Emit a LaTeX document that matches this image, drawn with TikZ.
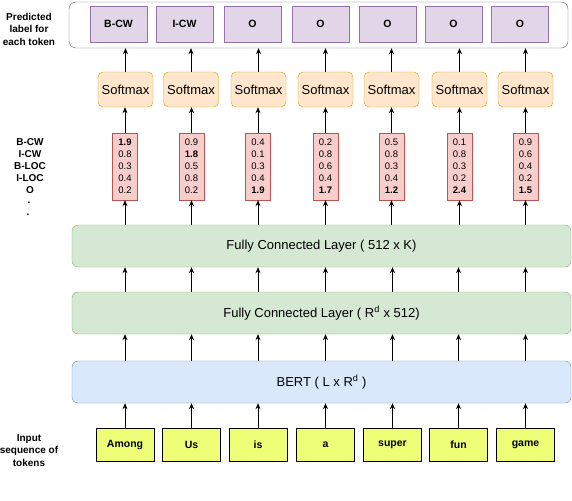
\documentclass[tikz,border=0pt]{standalone}
\usepackage{fontspec}
\setmainfont{Liberation Sans}
\usetikzlibrary{arrows.meta}
\definecolor{purF}{HTML}{E1D5E7}\definecolor{purD}{HTML}{9673A6}
\definecolor{orF}{HTML}{FFE6CC}\definecolor{orD}{HTML}{D79B00}
\definecolor{redF}{HTML}{F8CECC}\definecolor{redD}{HTML}{B85450}
\definecolor{grF}{HTML}{D5E8D4}\definecolor{grD}{HTML}{82B366}
\definecolor{blF}{HTML}{DAE8FC}\definecolor{blD}{HTML}{6C8EBF}
\definecolor{yeF}{HTML}{EEFF77}
\definecolor{outD}{HTML}{666666}
\begin{document}
\begin{tikzpicture}[x=1pt,y=-1pt,
  outbox/.style={draw=outD, fill=white, rounded corners=7pt, minimum width=499pt, minimum height=46pt, inner sep=0pt},
  labbox/.style={draw=purD, fill=purF, minimum width=57pt, minimum height=36pt, inner sep=0pt, font=\bfseries\fontsize{10.5}{12}\selectfont},
  smbox/.style={draw=orD, fill=orF, rounded corners=5pt, minimum width=55pt, minimum height=35pt, inner sep=0pt, font=\fontsize{13}{15}\selectfont},
  vecbox/.style={draw=redD, fill=redF, minimum width=25pt, minimum height=67pt, inner sep=0pt, align=center, font=\fontsize{9.5}{12}\selectfont},
  layer/.style={rounded corners=6pt, minimum width=499pt, minimum height=42pt, inner sep=0pt, font=\fontsize{13}{15}\selectfont},
  fcbox/.style={layer, draw=grD, fill=grF},
  bertbox/.style={layer, draw=blD, fill=blF},
  tokbox/.style={draw=black, fill=yeF, minimum width=58pt, minimum height=33pt, inner sep=0pt, font=\bfseries\fontsize{10.5}{12}\selectfont},
  side/.style={font=\bfseries\fontsize{10}{12.5}\selectfont, align=center, inner sep=0pt},
  conn/.style={-{Stealth[length=6pt,width=5pt]}, line width=0.8pt, draw=black}
]
\useasboundingbox (0,0) rectangle (572,500);

% outer output box
\node[outbox] (out) at (318.5,25) {};
\node[side] (predlab) at (29,29) {Predicted\\label for\\each token};

% output labels
\node[labbox] (lab1) at (118.5,24) {B-CW};
\node[labbox] (lab2) at (184.5,24) {I-CW};
\node[labbox] (lab3) at (252.5,24) {O};
\node[labbox] (lab4) at (320.5,24) {O};
\node[labbox] (lab5) at (387.5,24) {O};
\node[labbox] (lab6) at (453.5,24) {O};
\node[labbox] (lab7) at (520,24) {O};

% softmax
\foreach \i/\x in {1/125.5,2/191,3/258.5,4/325.5,5/391.5,6/459.5,7/525.5}{
  \node[smbox] (sm\i) at (\x,89.5) {Softmax};
}

% vectors
\node[vecbox] (vec1) at (125,166.5) {\textbf{1.9}\\0.8\\0.3\\0.4\\0.2};
\node[vecbox] (vec2) at (191.5,166.5) {0.9\\\textbf{1.8}\\0.5\\0.8\\0.2};
\node[vecbox] (vec3) at (258,166.5) {0.4\\0.1\\0.3\\0.4\\\textbf{1.9}};
\node[vecbox] (vec4) at (325.5,166.5) {0.2\\0.8\\0.6\\0.4\\\textbf{1.7}};
\node[vecbox] (vec5) at (391.5,166.5) {0.5\\0.8\\0.3\\0.4\\\textbf{1.2}};
\node[vecbox] (vec6) at (459.5,166.5) {0.1\\0.8\\0.3\\0.2\\\textbf{2.4}};
\node[vecbox] (vec7) at (525.5,166.5) {0.9\\0.6\\0.4\\0.2\\\textbf{1.5}};

% class labels
\node[side] (c1) at (30,142) {B-CW};
\node[side] (c2) at (30,154) {I-CW};
\node[side] (c3) at (30,166) {B-LOC};
\node[side] (c4) at (30,178) {I-LOC};
\node[side] (c5) at (30,190) {O};
\node[side] (d1) at (29,203) {.};
\node[side] (d2) at (28,215) {.};

% layers
\node[fcbox] (fck) at (321.5,246) {Fully Connected Layer ( 512 x K)};
\node[fcbox] (fcr) at (321.5,313) {Fully Connected Layer ( R\textsuperscript{d} x 512)};
\node[bertbox] (bert) at (321.5,382) {BERT ( L x R\textsuperscript{d} )};

% tokens
\node[tokbox] (tok1) at (125,444.5) {Among};
\node[tokbox] (tok2) at (191.5,444.5) {Us};
\node[tokbox] (tok3) at (258,444.5) {is};
\node[tokbox] (tok4) at (325.5,444.5) {a};
\node[tokbox] (tok5) at (392.5,444.5) {super};
\node[tokbox] (tok6) at (458.5,444.5) {fun};
\node[tokbox] (tok7) at (525.5,444.5) {game};
\node[side] (inlab) at (29,450.5) {Input\\sequence of\\tokens};

% connectors
\foreach \i in {1,...,7}{
  \draw[conn] (tok\i.north) -- (tok\i |- bert.south);
  \draw[conn] (tok\i |- bert.north) -- (tok\i |- fcr.south);
  \draw[conn] (tok\i |- fcr.north) -- (tok\i |- fck.south);
  \draw[conn] (vec\i |- fck.north) -- (vec\i.south);
  \draw[conn] (vec\i.north) -- (vec\i |- sm\i.south);
  \draw[conn] (sm\i.north) -- (sm\i |- out.south);
}
\end{tikzpicture}
\end{document}
